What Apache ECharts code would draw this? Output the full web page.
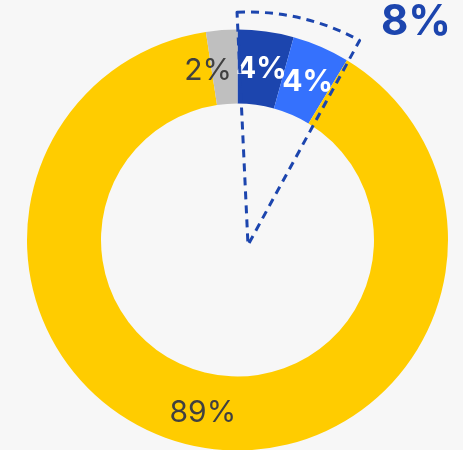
<!DOCTYPE html>
<html>
<head>
<meta charset="utf-8">
<script src="https://cdn.jsdelivr.net/npm/echarts@6/dist/echarts.min.js"></script>
<style>
html,body{margin:0;padding:0;background:#f7f7f7;}
#c{width:463px;height:450px;}
</style>
</head>
<body>
<div id="c"></div>
<script>
const categories = ['Dark blue', 'Light blue', 'Yellow', 'Gray'];
const values = [4.3, 4.4, 88.9, 2.4];
const colors = ['#1c45ae', '#3571fd', '#ffcc00', '#bfbfbf'];
const highlightedCount = 2; // first two slices grouped in dashed wedge

const FONT = 'Inter, "Open Sans", sans-serif';
const total = values.reduce((a, b) => a + b, 0);
const groupValue = values.slice(0, highlightedCount).reduce((a, b) => a + b, 0);
const groupLabel = values.slice(0, highlightedCount)
  .map(v => Math.round(v / total * 100)).reduce((a, b) => a + b, 0) + '%';

const darkLabel = { color: '#ffffff', fontWeight: 'bold', fontSize: 30, offset: [0, 4] };
const lightLabel = { color: '#404040', fontWeight: 'normal', fontSize: 30 };

const mainData = categories.map((name, i) => {
  const lab = i < highlightedCount ? Object.assign({}, darkLabel) : Object.assign({}, lightLabel);
  if (name === 'Gray') lab.offset = [-16, 7];
  return { name, value: values[i], itemStyle: { color: colors[i] }, label: lab };
});

const chart = echarts.init(document.getElementById('c'), null, { renderer: 'canvas' });
chart.setOption({
  backgroundColor: '#f7f7f7',
  animation: false,
  series: [
    {
      type: 'pie',
      center: [237.5, 240],
      radius: [136.5, 210.5],
      startAngle: 90,
      clockwise: true,
      avoidLabelOverlap: false,
      emphasis: { disabled: true },
      labelLayout: { hideOverlap: false },
      label: {
        show: true,
        position: 'inside',
        fontFamily: FONT,
        formatter: p => Math.round(p.percent) + '%'
      },
      labelLine: { show: false },
      itemStyle: { borderWidth: 0 },
      data: mainData
    },
    {
      type: 'pie',
      silent: true,
      center: [248, 245],
      radius: [0, 233],
      startAngle: 92.7,
      clockwise: true,
      z: 5,
      emphasis: { disabled: true },
      label: { show: false },
      labelLine: { show: false },
      data: [
        { name: 'group', value: groupValue,
          itemStyle: { color: 'rgba(0,0,0,0)', borderColor: '#1c45ae', borderWidth: 3, borderType: [8, 6] } },
        { name: 'rest', value: total - groupValue,
          itemStyle: { color: 'rgba(0,0,0,0)', borderWidth: 0 } }
      ]
    }
  ],
  graphic: [
    {
      type: 'text',
      left: 381,
      top: 1,
      style: {
        text: groupLabel,
        fontFamily: FONT,
        fontWeight: 'bold',
        fontSize: 42,
        fill: '#1c45ae'
      }
    }
  ]
});
</script>
</body>
</html>
